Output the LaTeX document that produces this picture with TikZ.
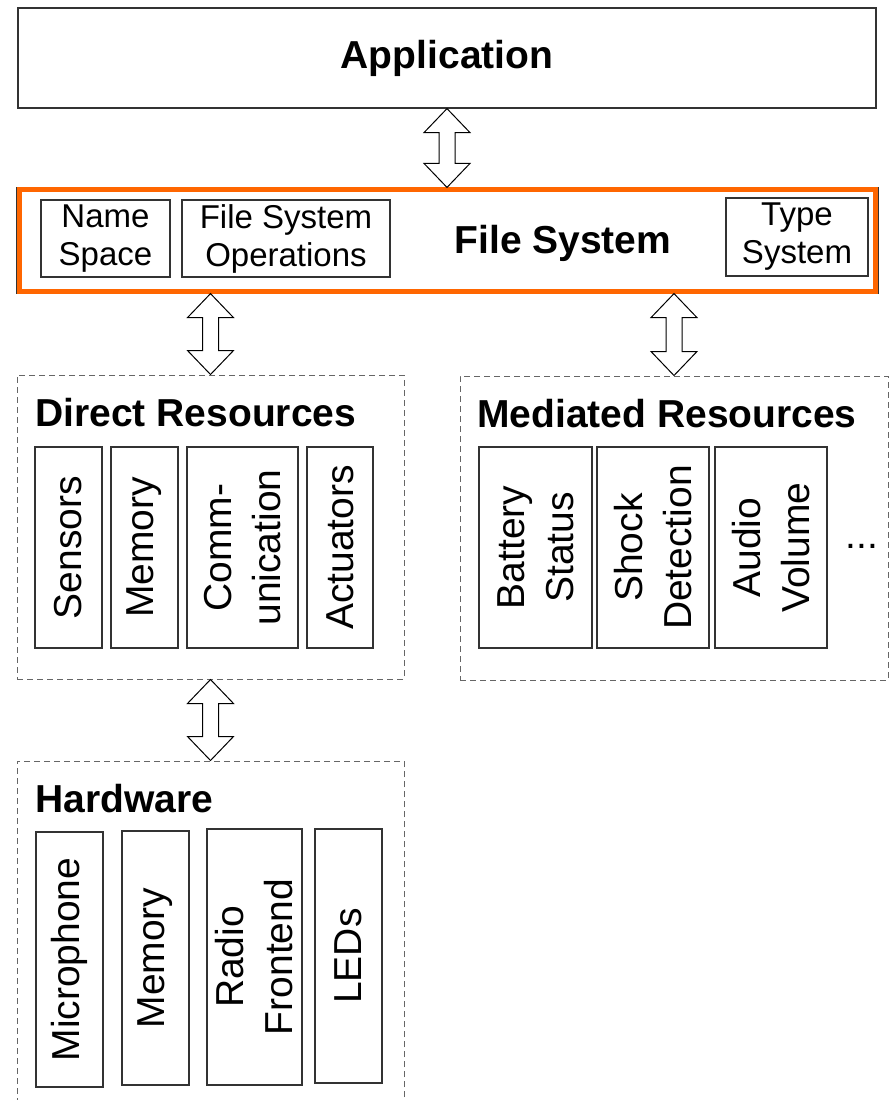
\documentclass[tikz,border=0pt]{standalone}
\usepackage{fontspec}
\setmainfont{Liberation Sans}
\usetikzlibrary{calc,positioning}
\definecolor{fsorange}{RGB}{255,102,0}
\definecolor{boxline}{rgb}{0.2,0.2,0.2}
\definecolor{dashline}{rgb}{0.4,0.4,0.4}

\newcommand{\bigfont}{\fontsize{19.5}{24.5}\selectfont}
\newcommand{\smallfont}{\fontsize{16.5}{19}\selectfont}

% hollow up/down block arrow, tip to tip
\newcommand{\dblarrow}[2]{%
  \draw[blockarrow] (#1) -- ($(#1)+(23,24)$) -- ($(#1)+(8,24)$) -- ($(#2)+(8,-24)$)
    -- ($(#2)+(23,-24)$) -- (#2) -- ($(#2)+(-23,-24)$) -- ($(#2)+(-8,-24)$)
    -- ($(#1)+(-8,24)$) -- ($(#1)+(-23,24)$) -- cycle;}

\tikzset{
  solidbox/.style={draw=boxline, line width=0.6pt, inner sep=0pt, align=center},
  groupbox/.style={draw=dashline, line width=0.5pt, dash pattern=on 3pt off 2pt, inner sep=0pt},
  vbox/.style={solidbox, rotate=90, font=\bigfont},
  hbox/.style={solidbox, font=\smallfont},
  grouptitle/.style={anchor=base west, inner sep=0pt, font=\bigfont\bfseries},
  blockarrow/.style={draw=black, fill=white, line width=0.5pt, line join=miter},
  fsborder/.style={draw=fsorange, line width=2.5pt}
}

\begin{document}
\begin{tikzpicture}[x=0.5pt, y=-0.5pt]
    \clip (0,0) rectangle (890,1100);
    % application layer
    \node[solidbox, minimum width=429pt, minimum height=50pt, font=\bigfont\bfseries] (app) at (447,58) {Application};
    % file system layer
    \node[solidbox, minimum width=430.5pt, minimum height=52.5pt] (fs) at (447.5,240.5) {};
    \draw[fsborder] ([shift={(3,2)}]fs.north west) rectangle ([shift={(-3,-2)}]fs.south east);
    \node[hbox, minimum width=64.5pt, minimum height=38.5pt] (namesp) at (105.5,238.5) {Name\\Space};
    \node[hbox, minimum width=104pt, minimum height=38.5pt] (fsops) at (286,238.5) {File System\\Operations};
    \node[hbox, minimum width=71pt, minimum height=39pt] (typesys) at (797,237) {Type\\System};
    \node[inner sep=0pt, font=\bigfont\bfseries] (fslabel) at (563,243) {File System};

    % direct resources
    \node[groupbox, minimum width=193.5pt, minimum height=152pt] (dir) at (210.5,527) {};
    \node[grouptitle] (dirtitle) at (35,426) {Direct Resources};
    \node[vbox, minimum width=100.5pt, minimum height=33.5pt] (sensors) at (68.5,547.5) {Sensors};
    \node[vbox, minimum width=100.5pt, minimum height=33.5pt] (dmemory) at (144.5,547.5) {Memory};
    \node[vbox, minimum width=100.5pt, minimum height=55.5pt] (comm) at (242.5,547.5) {Comm-\\unication};
    \node[vbox, minimum width=100.5pt, minimum height=33pt] (actuators) at (340,547.5) {Actuators};

    % mediated resources
    \node[groupbox, minimum width=214pt, minimum height=152pt] (med) at (674,528) {};
    \node[grouptitle] (medtitle) at (477,427) {Mediated Resources};
    \node[vbox, minimum width=100.5pt, minimum height=56.5pt] (battery) at (535.5,547.5) {Battery\\Status};
    \node[vbox, minimum width=100.5pt, minimum height=56pt] (shock) at (653,547.5) {Shock\\Detection};
    \node[vbox, minimum width=100.5pt, minimum height=56pt] (audio) at (771,547.5) {Audio\\Volume};
    \node[anchor=base, inner sep=0pt, font=\bigfont] (moredots) at (862,548) {...};

    % hardware
    \node[groupbox, minimum width=193.5pt, minimum height=179.5pt] (hw) at (210.5,940.5) {};
    \node[grouptitle] (hwtitle) at (35,812) {Hardware};
    \node[vbox, minimum width=127.5pt, minimum height=33.5pt] (micro) at (69.5,959.5) {Microphone};
    \node[vbox, minimum width=127pt, minimum height=33.5pt] (hmemory) at (155.5,958) {Memory};
    \node[vbox, minimum width=128pt, minimum height=47.5pt] (radio) at (254.5,957) {Radio\\Frontend};
    \node[vbox, minimum width=127pt, minimum height=33.5pt] (leds) at (348.5,956) {LEDs};

    % connectors
    \dblarrow{app.south}{app.south |- fs.north}
    \dblarrow{dir.north |- fs.south}{dir.north}
    \dblarrow{med.north |- fs.south}{med.north}
    \dblarrow{dir.south}{hw.north}
\end{tikzpicture}
\end{document}
